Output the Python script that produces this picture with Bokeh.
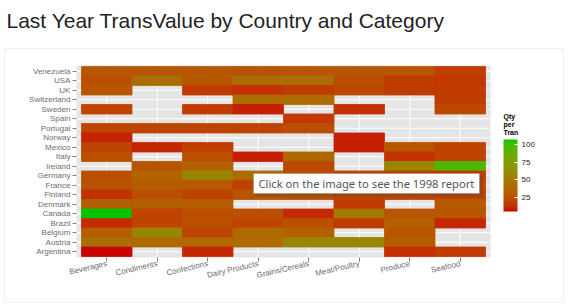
import numpy as np
from bokeh.plotting import figure
from bokeh.models import (FactorRange, Range1d, LinearColorMapper, ColorBar, FixedTicker,
                          Label, BoxAnnotation, ColumnDataSource)
from bokeh.transform import transform
from bokeh.embed import file_html
from bokeh.resources import INLINE

# ---------------- data ----------------
categories = ["Beverages", "Condiments", "Confections", "Dairy Products",
              "Grains/Cereals", "Meat/Poultry", "Produce", "Seafood"]
countries = ["Venezuela", "USA", "UK", "Switzerland", "Sweden", "Spain", "Portugal",
             "Norway", "Mexico", "Italy", "Ireland", "Germany", "France", "Finland",
             "Denmark", "Canada", "Brazil", "Belgium", "Austria", "Argentina"]

beverages   = [28, 25, 28, None, 20, None, 20, 10, 20, 25, None, 25, 26, 14, 33, 107, 12, 31, 43, 6]
condiments  = [28, 42, None, None, None, None, 20, None, 11, None, 27, 36, 32, 25, 33, 20, 20, 58, 39, None]
confections = [28, 28, 17, None, 17, None, 20, None, 18, 25, 34, 57, 30, 19, 31, 25, 25, 20, 38, 11]
dairy       = [27, 41, 13, 41, 9, None, 20, None, None, 9, None, 40, 19, 28, None, 25, 20, 39, 40, None]
grains      = [28, 41, 17, 40, None, 16, 24, None, None, 38, 22, 25, 25, 25, None, 11, 25, 34, 58, None]
meat        = [28, 24, 22, None, 13, None, None, 9, 9, None, None, 20, 24, 20, 17, 50, 17, None, 58, None]
produce     = [28, 17, 17, None, None, None, None, None, 28, 14, 58, 18, 19, 21, None, 28, 34, 28, 31, 13]
seafood     = [18, 16, 17, 17, 22, None, None, None, 20, 20, 97, 17, 21, 19, 30, 28, 11, None, None, 17]

legend_ticks = [25, 50, 75, 100]
value_low, value_high = 5.3, 107.0

title_text = "Last Year TransValue by Country and Category"
legend_title = "Qty\nper\nTran"
tooltip_text = "Click on the image to see the 1998 report"

# ---------------- colour scale (Lab interpolation, red -> green) ----------------
def _to_lin(c):
    c = c / 255.0
    return np.where(c <= 0.04045, c / 12.92, ((c + 0.055) / 1.055) ** 2.4)

def _from_lin(c):
    c = np.clip(c, 0, 1)
    return np.where(c <= 0.0031308, c * 12.92, 1.055 * c ** (1 / 2.4) - 0.055) * 255

M = np.array([[0.4124, 0.3576, 0.1805], [0.2126, 0.7152, 0.0722], [0.0193, 0.1192, 0.9505]])
Minv = np.linalg.inv(M)
WHITE = np.array([0.95047, 1.0, 1.08883])

def hex_to_lab(h):
    rgb = np.array([int(h[i:i + 2], 16) for i in (1, 3, 5)], dtype=float)
    xyz = M @ _to_lin(rgb) / WHITE
    f = np.where(xyz > 0.008856, np.cbrt(xyz), 7.787 * xyz + 16 / 116)
    return np.array([116 * f[1] - 16, 500 * (f[0] - f[1]), 200 * (f[1] - f[2])])

def lab_to_hex(lab):
    L, a, b = lab
    fy = (L + 16) / 116
    fx = fy + a / 500
    fz = fy - b / 200
    f = np.array([fx, fy, fz])
    xyz = np.where(f ** 3 > 0.008856, f ** 3, (f - 16 / 116) / 7.787) * WHITE
    rgb = _from_lin(Minv @ xyz)
    return "#%02x%02x%02x" % tuple(int(round(v)) for v in rgb)

lo, hi = hex_to_lab("#C80000"), hex_to_lab("#00C400")
palette = [lab_to_hex(lo + (hi - lo) * t) for t in np.linspace(0, 1, 256)]
mapper = LinearColorMapper(palette=palette, low=value_low, high=value_high)

# ---------------- tiles ----------------
n_rows = len(countries)
row_index = {c: n_rows - 1 - i for i, c in enumerate(countries)}   # Argentina at bottom
series = [beverages, condiments, confections, dairy, grains, meat, produce, seafood]
xs, ys, vs = [], [], []
for cat, col in zip(categories, series):
    for ctry, v in zip(countries, col):
        if v is not None:
            xs.append(cat); ys.append(row_index[ctry]); vs.append(v)
src = ColumnDataSource(dict(cat=xs, row=ys, val=vs))

pad = 0.1                      # panel padding around the tiles (in category units)
x_lo, x_hi = -pad, len(categories) + pad
y_lo, y_hi = -0.5 - pad, n_rows - 0.5 + pad

p = figure(width=568, height=306,
           x_range=FactorRange(*categories, range_padding=1.604, range_padding_units="absolute"),
           y_range=Range1d(-5.763, 26.447),
           output_backend="svg", toolbar_location=None,
           min_border_left=0, min_border_right=2, min_border_top=0, min_border_bottom=0)
p.background_fill_color = "white"
p.border_fill_color = "white"
p.outline_line_color = None
p.xgrid.visible = False
p.ygrid.visible = False

# panel background and white grid lines
p.quad(left=[x_lo], right=[x_hi], bottom=[y_lo], top=[y_hi],
       fill_color="#E5E5E5", line_color=None)
p.segment(x0=categories, x1=categories, y0=[y_lo] * len(categories), y1=[y_hi] * len(categories),
          line_color="white", line_width=1)
p.segment(x0=[x_lo] * n_rows, x1=[x_hi] * n_rows, y0=list(range(n_rows)), y1=list(range(n_rows)),
          line_color="white", line_width=1)

p.rect(x="cat", y="row", width=1, height=1, source=src,
       fill_color=transform("val", mapper), line_color=transform("val", mapper), line_width=0.8)

# axes placed on the panel edges
p.xaxis.fixed_location = y_lo
p.yaxis.fixed_location = x_lo
p.yaxis.ticker = FixedTicker(ticks=list(range(n_rows)))
p.yaxis.major_label_overrides = {row_index[c]: c for c in countries}
for ax in (p.xaxis, p.yaxis):
    ax.axis_line_color = None
    ax.major_tick_line_color = "#7F7F7F"
    ax.major_tick_out = 4
    ax.major_tick_in = 0
    ax.minor_tick_line_color = None
    ax.major_label_text_font = "Liberation Sans"
    ax.major_label_text_font_size = "8px"
    ax.major_label_text_color = "#6E6E6E"
    ax.major_label_standoff = 2
p.xaxis.major_label_orientation = 0.23

# ---------------- legend ----------------
cb = ColorBar(color_mapper=mapper, ticker=FixedTicker(ticks=legend_ticks),
              width=14, height=72, location=(503, 95), padding=0, margin=0,
              major_label_text_font="Liberation Sans", major_label_text_font_size="8px",
              major_label_text_color="#222222", label_standoff=4,
              major_tick_line_color="white", major_tick_in=3, major_tick_out=0,
              bar_line_color=None, border_line_color=None, background_fill_color=None)
p.add_layout(cb, "center")
p.add_layout(Label(x=503, y=194, x_units="screen", y_units="screen", text=legend_title,
                   text_font="Liberation Sans", text_font_size="7px", text_font_style="bold",
                   text_color="black", text_baseline="top", text_line_height=1.15))

# ---------------- page decorations ----------------
def screen_box(**kw):
    return BoxAnnotation(left_units="screen", right_units="screen",
                         top_units="screen", bottom_units="screen", **kw)

p.add_layout(screen_box(left=4, right=563, top=258, bottom=4,
                        fill_color=None, line_color="#CFCFCF", line_width=1))
p.add_layout(Label(x=6, y=286, x_units="screen", y_units="screen", text=title_text,
                   text_font="Liberation Sans", text_font_size="21px", text_color="#222222",
                   text_baseline="alphabetic"))

# tooltip overlay
p.add_layout(screen_box(left=255, right=482, top=131, bottom=110,
                        fill_color="#444444", fill_alpha=0.3, line_color=None))
p.add_layout(screen_box(left=253, right=479, top=133, bottom=113,
                        fill_color="white", fill_alpha=1.0, line_color="#767676", line_width=1))
p.add_layout(Label(x=258, y=123, x_units="screen", y_units="screen", text=tooltip_text,
                   text_font="Noto Sans", text_font_size="11.2px", text_color="#555555",
                   text_baseline="middle"))

open("out.html", "w").write(file_html(p, INLINE))
